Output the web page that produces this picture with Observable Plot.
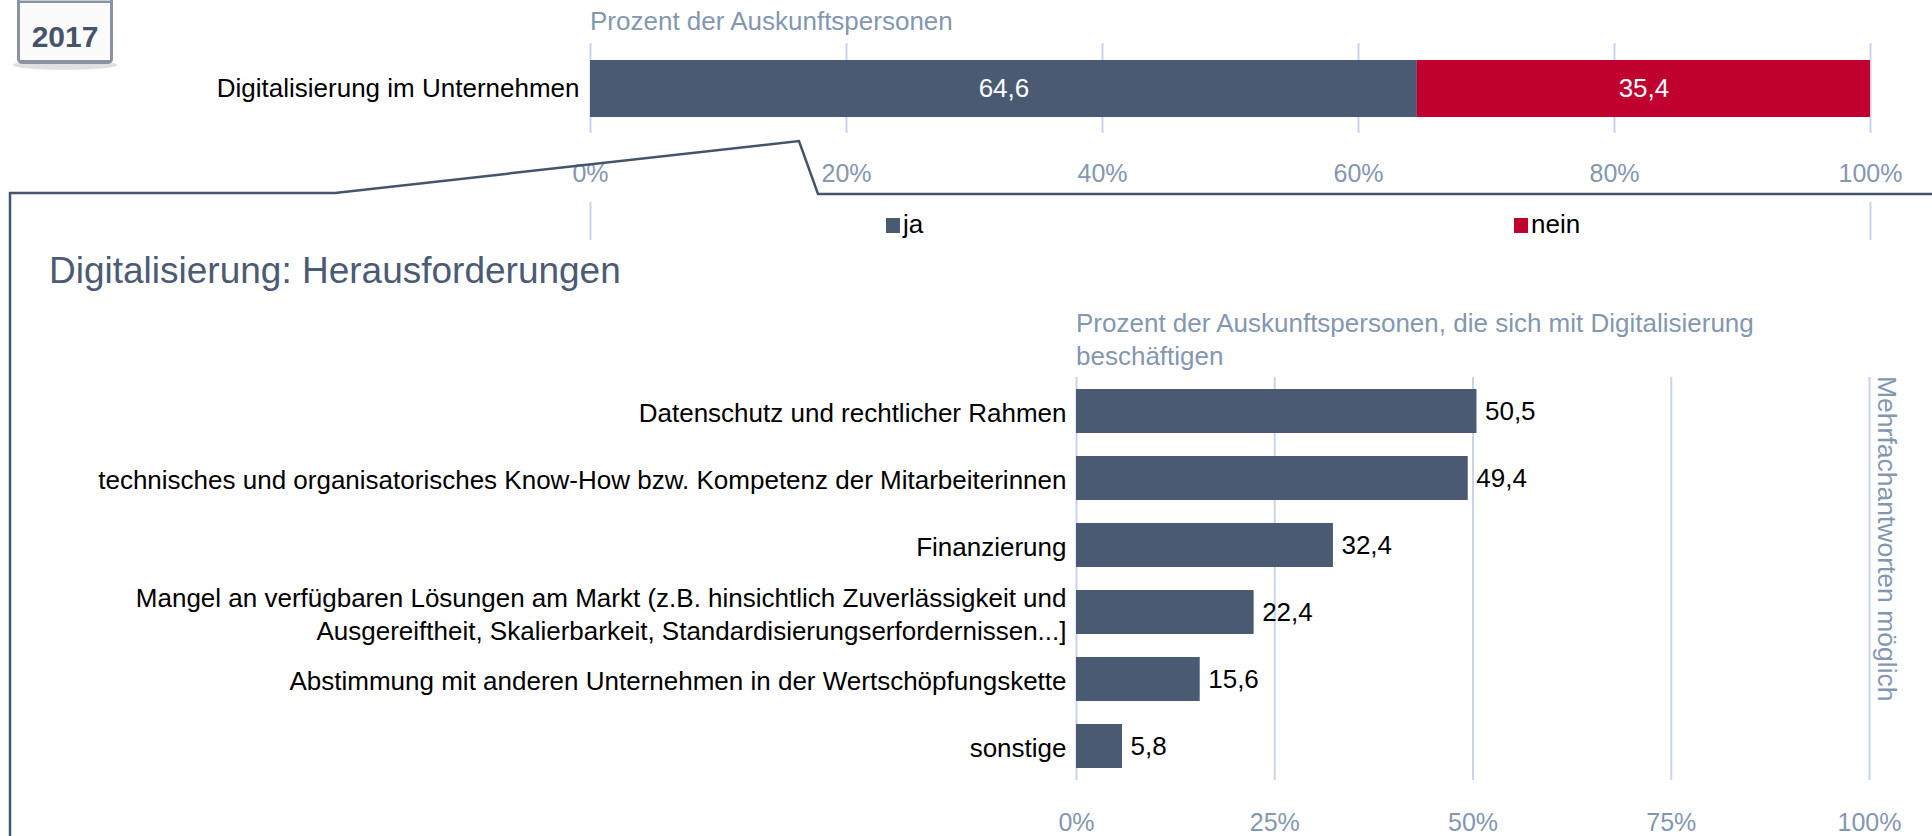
<!DOCTYPE html>
<html><head><meta charset="utf-8">
<script src="https://cdn.jsdelivr.net/npm/d3@7"></script>
<script src="https://cdn.jsdelivr.net/npm/@observablehq/plot@0.6"></script>
<style>
html,body{margin:0;padding:0;background:#fff;}
#wrap{position:relative;width:1932px;height:836px;overflow:hidden;font-family:"Liberation Sans",Arial,sans-serif;}
</style></head><body><div id="wrap"></div>
<script>
// ---- data ----
const topCategory = ["Digitalisierung im Unternehmen"];
const topAnswers = ["ja", "nein"];
const topValues = [64.6, 35.4];
const topTicks = [0, 20, 40, 60, 80, 100];

const challengeLabels = [
  "Datenschutz und rechtlicher Rahmen",
  "technisches und organisatorisches Know-How bzw. Kompetenz der Mitarbeiterinnen",
  "Finanzierung",
  "Mangel an verfügbaren Lösungen am Markt (z.B. hinsichtlich Zuverlässigkeit und\nAusgereiftheit, Skalierbarkeit, Standardisierungserfordernissen...]",
  "Abstimmung mit anderen Unternehmen in der Wertschöpfungskette",
  "sonstige"
];
const challengeValues = [50.5, 49.4, 32.4, 22.4, 15.6, 5.8];
const bottomTicks = [0, 25, 50, 75, 100];

const topTitle = "Prozent der Auskunftspersonen";
const bottomSubtitle = ["Prozent der Auskunftspersonen, die sich mit Digitalisierung", "beschäftigen"];
const mainTitle = "Digitalisierung: Herausforderungen";
const noteText = "Mehrfachantworten möglich";
const yearText = "2017";

// ---- style ----
const FONT = '"Liberation Sans", Arial, sans-serif';
const FS = 26;
const DARK = "#4a5a73";
const RED = "#c0002f";
const GRID = "#c7d4ea";
const AXIS = "#8497b0";
const SLATE = "#44546a";
const fmt = v => d3.format(".1f")(v).replace(".", ",");

const wrap = document.getElementById("wrap");
function place(el, top) { el.style.position = "absolute"; el.style.left = "0px"; el.style.top = top + "px"; wrap.appendChild(el); }

// ---- top chart ----
const topData = topAnswers.map((a, i) => ({category: topCategory[0], answer: a, value: topValues[i]}));
const topPlot = Plot.plot({
  width: 1932, height: 195,
  marginTop: 43, marginBottom: 62, marginLeft: 590, marginRight: 62,
  style: {fontFamily: FONT, fontSize: FS + "px", background: "transparent", overflow: "visible"},
  x: {domain: [0, 100]},
  y: {domain: topCategory, padding: 0.2245},
  color: {domain: topAnswers, range: [DARK, RED]},
  marks: [
    Plot.ruleX(topTicks, {stroke: GRID, strokeWidth: 2}),
    Plot.barX(topData, Plot.stackX({x: "value", y: "category", fill: "answer"})),
    Plot.text(topData, Plot.stackX({x: "value", y: "category", text: d => fmt(d.value), fill: "white", fontSize: FS})),
    Plot.axisX(topTicks, {anchor: "bottom", tickSize: 0, tickPadding: 31, tickFormat: d => d + "%", fill: AXIS, fontSize: 25, label: null}),
    Plot.axisY({tickSize: 0, tickPadding: 11, fill: "black", fontSize: FS, label: null})
  ]
});
place(topPlot, 0);

// strip with the outer rules under the axis labels
const stripPlot = Plot.plot({
  width: 1932, height: 38,
  marginTop: 0, marginBottom: 0, marginLeft: 590, marginRight: 62,
  style: {background: "transparent"},
  x: {domain: [0, 100], axis: null},
  marks: [Plot.ruleX([topTicks[0], topTicks[topTicks.length - 1]], {stroke: GRID, strokeWidth: 2})]
});
place(stripPlot, 202);

// ---- bottom chart ----
const challengeData = challengeLabels.map((c, i) => ({category: c, value: challengeValues[i]}));
const bottomPlot = Plot.plot({
  width: 1932, height: 476,
  marginTop: 17, marginBottom: 56, marginLeft: 1076, marginRight: 63,
  style: {fontFamily: FONT, fontSize: FS + "px", background: "transparent", overflow: "visible"},
  x: {domain: [0, 100]},
  y: {domain: challengeLabels, paddingInner: 0.345, paddingOuter: 0.1725},
  marks: [
    Plot.ruleX(bottomTicks, {stroke: GRID, strokeWidth: 2}),
    Plot.barX(challengeData, {x: "value", y: "category", fill: DARK}),
    Plot.text(challengeData, {x: "value", y: "category", text: d => fmt(d.value), textAnchor: "start", dx: 8, fill: "black", fontSize: FS}),
    Plot.axisX(bottomTicks, {anchor: "bottom", tickSize: 0, tickPadding: 33, tickFormat: d => d + "%", fill: AXIS, fontSize: 25, label: null}),
    Plot.axisY({tickSize: 0, tickPadding: 10, fill: "black", fontSize: FS, lineHeight: 1.27, label: null})
  ]
});
place(bottomPlot, 360);

// ---- overlay: titles, legend, callout, badge ----
const NS = "http://www.w3.org/2000/svg";
const ov = document.createElementNS(NS, "svg");
ov.setAttribute("width", 1932); ov.setAttribute("height", 836);
ov.style.position = "absolute"; ov.style.left = "0px"; ov.style.top = "0px"; ov.style.pointerEvents = "none";
ov.style.fontFamily = FONT;
function add(tag, attrs, text) {
  const e = document.createElementNS(NS, tag);
  for (const k in attrs) e.setAttribute(k, attrs[k]);
  if (text != null) e.textContent = text;
  ov.appendChild(e); return e;
}
// callout line
add("polyline", {points: "10,840 10,193 335,193 799,141 818,194 1940,194", fill: "none", stroke: SLATE, "stroke-width": 2.5, "stroke-linejoin": "miter"});
// badge
add("ellipse", {cx: 65, cy: 65, rx: 52, ry: 5, fill: "#d8d8d8", opacity: 0.8});
add("rect", {x: 17, y: -6, width: 96, height: 70, rx: 5, fill: "#8a93a2"});
add("rect", {x: 20, y: 3, width: 90, height: 57, fill: "#fbfbfb"});
add("rect", {x: 20, y: -2, width: 90, height: 3, fill: "#c8ccd3"});
add("text", {x: 65, y: 47, "text-anchor": "middle", "font-size": 30, "font-weight": "bold", fill: SLATE}, yearText);
// titles
add("text", {x: 590, y: 30, "font-size": FS, fill: AXIS}, topTitle);
add("text", {x: 49, y: 283, "font-size": 37, fill: "#4b5b74"}, mainTitle);
add("text", {x: 1076, y: 332, "font-size": FS, fill: AXIS}, bottomSubtitle[0]);
add("text", {x: 1076, y: 365, "font-size": FS, fill: AXIS}, bottomSubtitle[1]);
// legend
const legendX = [886, 1514];
topAnswers.forEach((a, i) => {
  add("rect", {x: legendX[i], y: 218, width: 14, height: 15, fill: i === 0 ? DARK : RED});
  add("text", {x: legendX[i] + 17, y: 233, "font-size": FS, fill: "black"}, a);
});
// note
add("text", {x: 1878, y: 376, "font-size": 26.5, fill: AXIS, transform: "rotate(90 1878 376)"}, noteText);
wrap.appendChild(ov);
</script></body></html>
